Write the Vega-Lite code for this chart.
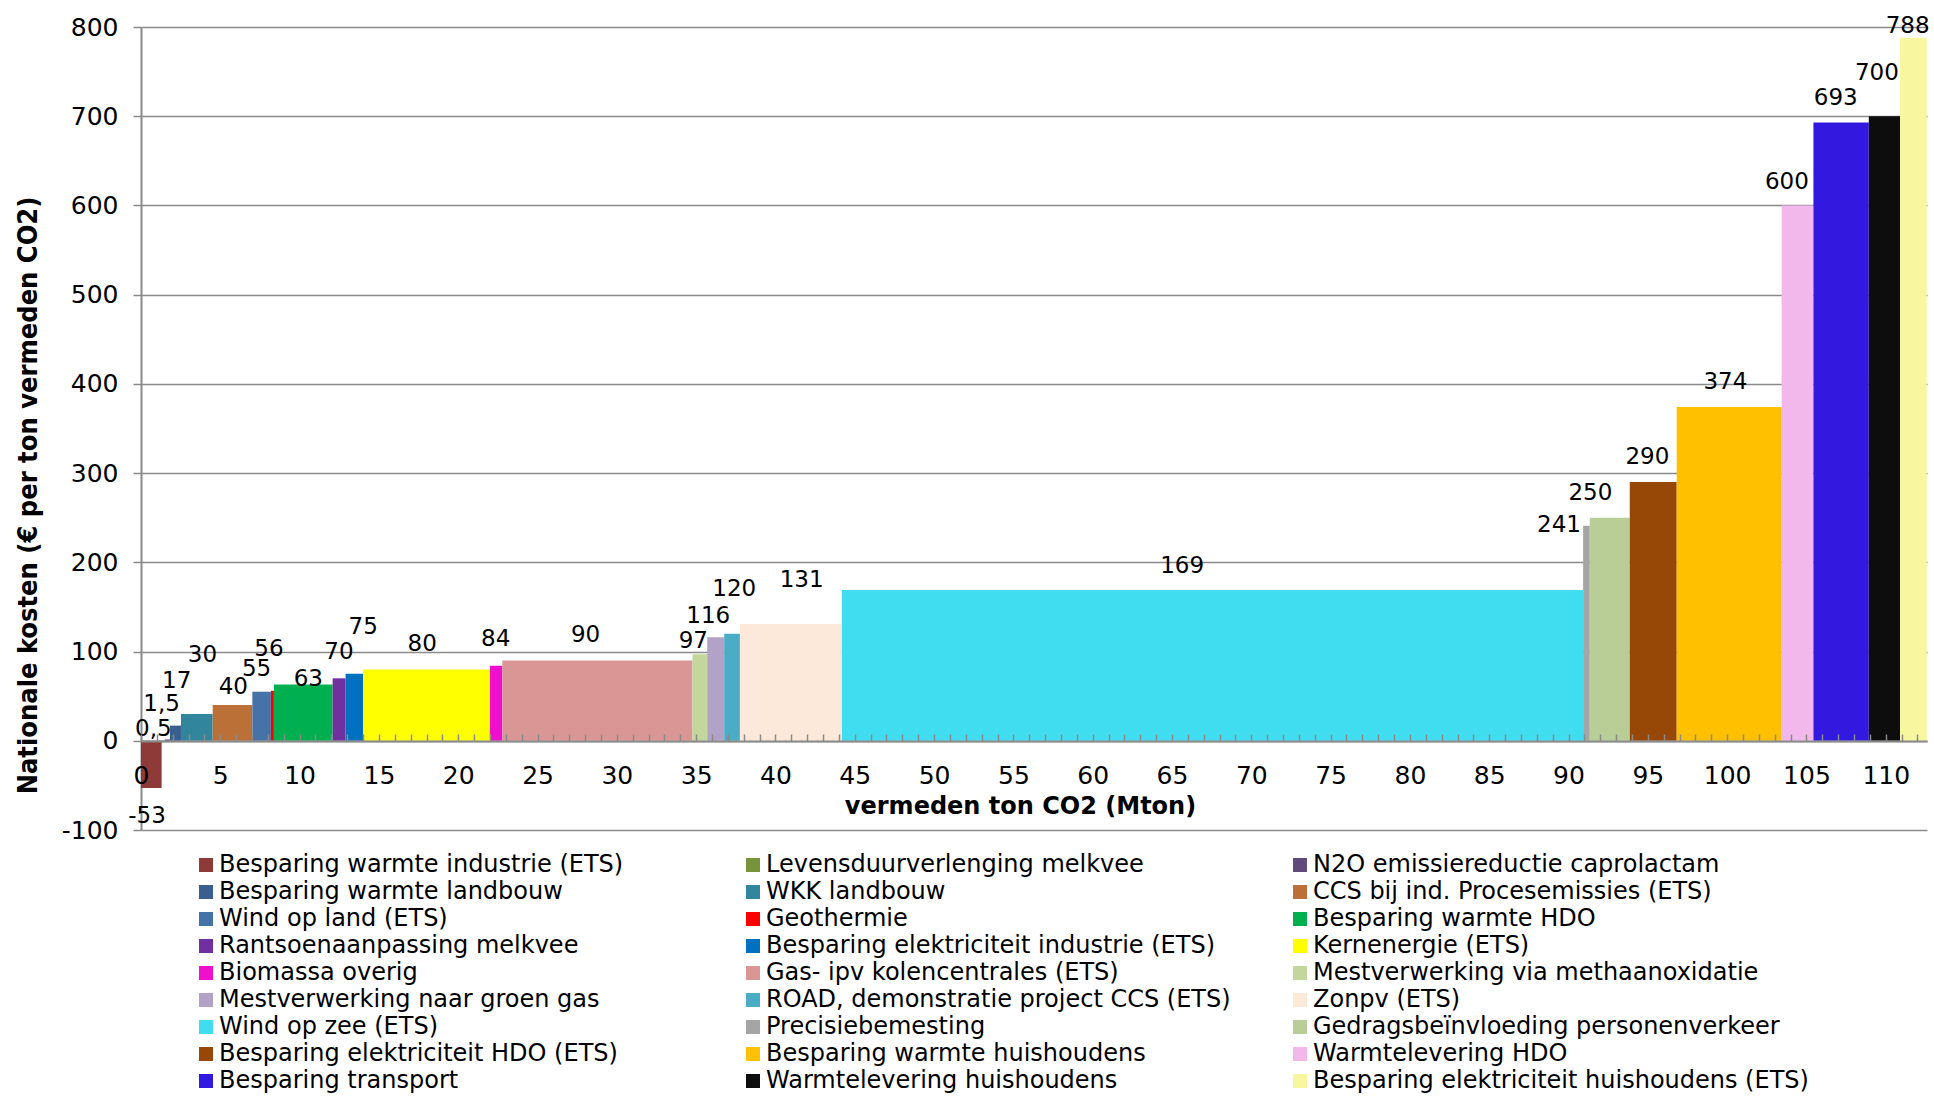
{
  "$schema": "https://vega.github.io/schema/vega-lite/v6.json",
  "autosize": "none",
  "width": 1786,
  "height": 803,
  "padding": {"left": 141, "top": 27, "right": 7, "bottom": 266},
  "background": "white",
  "data": {"values": [
    {"name": "Besparing warmte industrie (ETS)", "x0": 0, "x1": 1.3, "value": -53, "label": "-53", "lx": 0.38, "ly": -84},
    {"name": "Levensduurverlenging melkvee", "x0": 1.3, "x1": 1.5, "value": 0.5, "label": "0,5", "lx": 0.78, "ly": 13},
    {"name": "N2O emissiereductie caprolactam", "x0": 1.5, "x1": 1.83, "value": 1.5, "label": "1,5", "lx": 1.3, "ly": 41},
    {"name": "Besparing warmte landbouw", "x0": 1.83, "x1": 2.52, "value": 17, "label": "17", "lx": 2.25, "ly": 67},
    {"name": "WKK landbouw", "x0": 2.52, "x1": 4.52, "value": 30, "label": "30", "lx": 3.87, "ly": 96},
    {"name": "CCS bij ind. Procesemissies (ETS)", "x0": 4.52, "x1": 7.02, "value": 40, "label": "40", "lx": 5.82, "ly": 60},
    {"name": "Wind op land (ETS)", "x0": 7.02, "x1": 8.19, "value": 55, "label": "55", "lx": 7.29, "ly": 80},
    {"name": "Geothermie", "x0": 8.19, "x1": 8.38, "value": 56, "label": "56", "lx": 8.07, "ly": 103},
    {"name": "Besparing warmte HDO", "x0": 8.38, "x1": 12.08, "value": 63, "label": "63", "lx": 10.55, "ly": 69},
    {"name": "Rantsoenaanpassing melkvee", "x0": 12.08, "x1": 12.9, "value": 70, "label": "70", "lx": 12.48, "ly": 99},
    {"name": "Besparing elektriciteit industrie (ETS)", "x0": 12.9, "x1": 14.0, "value": 75, "label": "75", "lx": 14.01, "ly": 127},
    {"name": "Kernenergie (ETS)", "x0": 14.0, "x1": 22.0, "value": 80, "label": "80", "lx": 17.73, "ly": 108},
    {"name": "Biomassa overig", "x0": 22.0, "x1": 22.78, "value": 84, "label": "84", "lx": 22.36, "ly": 114},
    {"name": "Gas- ipv kolencentrales (ETS)", "x0": 22.78, "x1": 34.77, "value": 90, "label": "90", "lx": 28.03, "ly": 119},
    {"name": "Mestverwerking via methaanoxidatie", "x0": 34.77, "x1": 35.7, "value": 97, "label": "97", "lx": 34.82, "ly": 112},
    {"name": "Mestverwerking naar groen gas", "x0": 35.7, "x1": 36.77, "value": 116, "label": "116", "lx": 35.76, "ly": 140},
    {"name": "ROAD, demonstratie project CCS (ETS)", "x0": 36.77, "x1": 37.76, "value": 120, "label": "120", "lx": 37.4, "ly": 170},
    {"name": "Zonpv (ETS)", "x0": 37.76, "x1": 44.19, "value": 131, "label": "131", "lx": 41.65, "ly": 180},
    {"name": "Wind op zee (ETS)", "x0": 44.19, "x1": 90.92, "value": 169, "label": "169", "lx": 65.64, "ly": 196},
    {"name": "Precisiebemesting", "x0": 90.92, "x1": 91.34, "value": 241, "label": "241", "lx": 89.4, "ly": 242},
    {"name": "Gedragsbeïnvloeding personenverkeer", "x0": 91.34, "x1": 93.86, "value": 250, "label": "250", "lx": 91.38, "ly": 278},
    {"name": "Besparing elektriciteit HDO (ETS)", "x0": 93.86, "x1": 96.82, "value": 290, "label": "290", "lx": 94.97, "ly": 318},
    {"name": "Besparing warmte huishoudens", "x0": 96.82, "x1": 103.44, "value": 374, "label": "374", "lx": 99.89, "ly": 402},
    {"name": "Warmtelevering HDO", "x0": 103.44, "x1": 105.44, "value": 600, "label": "600", "lx": 103.77, "ly": 626},
    {"name": "Besparing transport", "x0": 105.44, "x1": 108.93, "value": 693, "label": "693", "lx": 106.85, "ly": 720},
    {"name": "Warmtelevering huishoudens", "x0": 108.93, "x1": 110.9, "value": 700, "label": "700", "lx": 109.44, "ly": 748},
    {"name": "Besparing elektriciteit huishoudens (ETS)", "x0": 110.9, "x1": 112.58, "value": 788, "label": "788", "lx": 111.38, "ly": 801}
  ]},
  "layer": [
    {
      "mark": {"type": "rect"},
      "encoding": {
        "x": {"field": "x0", "type": "quantitative",
          "scale": {"domain": [0, 112.6], "nice": false, "zero": false},
          "title": "vermeden ton CO2 (Mton)",
          "axis": {
            "values": [0,1,2,3,4,5,6,7,8,9,10,11,12,13,14,15,16,17,18,19,20,21,22,23,24,25,26,27,28,29,30,31,32,33,34,35,36,37,38,39,40,41,42,43,44,45,46,47,48,49,50,51,52,53,54,55,56,57,58,59,60,61,62,63,64,65,66,67,68,69,70,71,72,73,74,75,76,77,78,79,80,81,82,83,84,85,86,87,88,89,90,91,92,93,94,95,96,97,98,99,100,101,102,103,104,105,106,107,108,109,110,111,112],
            "labelExpr": "datum.value % 5 === 0 && datum.value <= 110 ? datum.label : ''",
            "offset": -89, "zindex": 1,
            "tickSize": -7, "tickColor": "#8a8a8a", "tickWidth": 1.5,
            "domainColor": "#8a8a8a", "domainWidth": 2, "grid": false,
            "labelPadding": 29, "labelFont": "DejaVu Sans", "labelFontSize": 25, "labelColor": "#000000",
            "labelFlush": false, "labelOverlap": false,
            "titleFont": "DejaVu Sans", "titleFontWeight": "bold", "titleFontSize": 24, "titleColor": "#000000",
            "titleBaseline": "middle", "titleX": 879, "titleY": 65
          }},
        "x2": {"field": "x1"},
        "y": {"field": "value", "type": "quantitative",
          "scale": {"domain": [-100, 800], "nice": false},
          "title": "Nationale kosten (€ per ton vermeden CO2)",
          "axis": {
            "values": [-100,0,100,200,300,400,500,600,700,800],
            "labelExpr": "replace(datum.label, '−', '-')",
            "grid": true, "gridColor": "#8a8a8a", "gridWidth": 1.5,
            "domainColor": "#8a8a8a", "domainWidth": 2,
            "tickColor": "#8a8a8a", "tickWidth": 1.5, "tickSize": 8,
            "labelPadding": 15, "labelFont": "DejaVu Sans", "labelFontSize": 25, "labelColor": "#000000", "labelFlush": false,
            "titleFont": "DejaVu Sans Condensed", "titleFontWeight": "bold", "titleFontSize": 27, "titleColor": "#000000",
            "titleAngle": -90, "titleBaseline": "middle", "titleAlign": "center",
            "titleX": -113, "titleY": 468
          }},
        "y2": {"datum": 0},
        "color": {"field": "name", "type": "nominal",
          "scale": {
            "domain": ["Besparing warmte industrie (ETS)", "Levensduurverlenging melkvee", "N2O emissiereductie caprolactam", "Besparing warmte landbouw", "WKK landbouw", "CCS bij ind. Procesemissies (ETS)", "Wind op land (ETS)", "Geothermie", "Besparing warmte HDO", "Rantsoenaanpassing melkvee", "Besparing elektriciteit industrie (ETS)", "Kernenergie (ETS)", "Biomassa overig", "Gas- ipv kolencentrales (ETS)", "Mestverwerking via methaanoxidatie", "Mestverwerking naar groen gas", "ROAD, demonstratie project CCS (ETS)", "Zonpv (ETS)", "Wind op zee (ETS)", "Precisiebemesting", "Gedragsbeïnvloeding personenverkeer", "Besparing elektriciteit HDO (ETS)", "Besparing warmte huishoudens", "Warmtelevering HDO", "Besparing transport", "Warmtelevering huishoudens", "Besparing elektriciteit huishoudens (ETS)"],
            "range": ["#8E3A38", "#77933C", "#604A7B", "#3A5F8F", "#31859C", "#BA7036", "#4573A7", "#FF0000", "#00B050", "#7030A0", "#0070C0", "#FFFF00", "#EE10CC", "#D99694", "#C3D69B", "#B3A2C7", "#4BACC6", "#FDE9D9", "#40DDF0", "#A5A5A5", "#B9CD96", "#974806", "#FFC000", "#F3B8EB", "#3319E0", "#0D0D0D", "#F8F7A0"]
          },
          "legend": {
            "title": null, "orient": "none", "legendX": 53, "legendY": 826, "padding": 0,
            "columns": 3, "direction": "horizontal", "gridAlign": "all",
            "columnPadding": 26, "rowPadding": 3,
            "symbolType": "square", "symbolSize": 196, "symbolStrokeWidth": 0,
            "labelFont": "DejaVu Sans", "labelFontSize": 24, "labelColor": "#000000", "labelLimit": 700, "labelOffset": 1
          }}
      }
    },
    {
      "mark": {"type": "text", "font": "DejaVu Sans", "fontSize": 23, "color": "#000000", "align": "center", "baseline": "middle"},
      "encoding": {
        "x": {"field": "lx", "type": "quantitative",
          "title": "vermeden ton CO2 (Mton)",
          "axis": {
            "values": [0,1,2,3,4,5,6,7,8,9,10,11,12,13,14,15,16,17,18,19,20,21,22,23,24,25,26,27,28,29,30,31,32,33,34,35,36,37,38,39,40,41,42,43,44,45,46,47,48,49,50,51,52,53,54,55,56,57,58,59,60,61,62,63,64,65,66,67,68,69,70,71,72,73,74,75,76,77,78,79,80,81,82,83,84,85,86,87,88,89,90,91,92,93,94,95,96,97,98,99,100,101,102,103,104,105,106,107,108,109,110,111,112],
            "labelExpr": "datum.value % 5 === 0 && datum.value <= 110 ? datum.label : ''",
            "offset": -89, "zindex": 1,
            "tickSize": -7, "tickColor": "#8a8a8a", "tickWidth": 1.5,
            "domainColor": "#8a8a8a", "domainWidth": 2, "grid": false,
            "labelPadding": 29, "labelFont": "DejaVu Sans", "labelFontSize": 25, "labelColor": "#000000",
            "labelFlush": false, "labelOverlap": false,
            "titleFont": "DejaVu Sans", "titleFontWeight": "bold", "titleFontSize": 24, "titleColor": "#000000",
            "titleBaseline": "middle", "titleX": 879, "titleY": 65
          }},
        "y": {"field": "ly", "type": "quantitative",
          "title": "Nationale kosten (€ per ton vermeden CO2)",
          "axis": {
            "values": [-100,0,100,200,300,400,500,600,700,800],
            "labelExpr": "replace(datum.label, '−', '-')",
            "grid": true, "gridColor": "#8a8a8a", "gridWidth": 1.5,
            "domainColor": "#8a8a8a", "domainWidth": 2,
            "tickColor": "#8a8a8a", "tickWidth": 1.5, "tickSize": 8,
            "labelPadding": 15, "labelFont": "DejaVu Sans", "labelFontSize": 25, "labelColor": "#000000", "labelFlush": false,
            "titleFont": "DejaVu Sans Condensed", "titleFontWeight": "bold", "titleFontSize": 27, "titleColor": "#000000",
            "titleAngle": -90, "titleBaseline": "middle", "titleAlign": "center",
            "titleX": -113, "titleY": 468
          }},
        "text": {"field": "label"}
      }
    }
  ],
  "config": {"view": {"stroke": null}}
}
